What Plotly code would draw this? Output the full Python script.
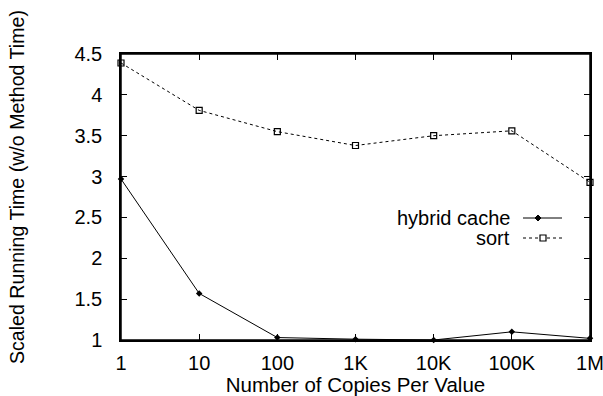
import plotly.graph_objects as go

copies = [1, 10, 100, 1000, 10000, 100000, 1000000]
tick_labels = ["1", "10", "100", "1K", "10K", "100K", "1M"]
hybrid_cache = [2.97, 1.57, 1.03, 1.01, 1.00, 1.10, 1.02]
sort_vals = [4.39, 3.81, 3.55, 3.38, 3.50, 3.56, 2.93]
y_ticks = [1, 1.5, 2, 2.5, 3, 3.5, 4, 4.5]
y_tick_labels = ["1", "1.5", "2", "2.5", "3", "3.5", "4", "4.5"]

FONT = "Liberation Sans, Arial, Helvetica, sans-serif"
FS = 20

fig = go.Figure()
fig.add_trace(go.Scatter(
    x=copies, y=hybrid_cache, name="hybrid cache", mode="lines+markers",
    line=dict(color="black", width=1),
    marker=dict(symbol="diamond", size=5, color="black"),
    showlegend=False, cliponaxis=False,
))
fig.add_trace(go.Scatter(
    x=copies, y=sort_vals, name="sort", mode="lines+markers",
    line=dict(color="black", width=1, dash="dot"),
    marker=dict(symbol="square-open", size=6, color="black", line=dict(width=1.2)),
    showlegend=False, cliponaxis=False,
))

# Legend (text left of sample, gnuplot style)
W, H = 603, 396
L, R, T, B = 121, 13, 54, 56
pw, ph = W - L - R, H - T - B

def px(x):
    return (x - L) / pw

def py(y):
    return 1 - (y - T) / ph

legend_items = [("hybrid cache", 218, "solid"), ("sort", 238, "dot")]
shapes = [dict(type="rect", xref="paper", yref="paper", x0=0, x1=1, y0=0, y1=1,
               line=dict(color="black", width=1.5), layer="above")]
annotations = []
for text, yy, dash in legend_items:
    annotations.append(dict(
        x=px(512), y=py(yy), xref="paper", yref="paper", text=text,
        showarrow=False, xanchor="right", yanchor="middle",
        font=dict(family=FONT, size=FS, color="black"),
    ))
    shapes.append(dict(
        type="line", xref="paper", yref="paper",
        x0=px(523), x1=px(562), y0=py(yy), y1=py(yy),
        line=dict(color="black", width=1, dash=dash),
    ))
# legend sample markers
cx, cy = 538, 218
shapes.append(dict(type="path", xref="paper", yref="paper",
                   path=f"M {px(cx-3)} {py(cy)} L {px(cx)} {py(cy-3)} L {px(cx+3)} {py(cy)} L {px(cx)} {py(cy+3)} Z",
                   fillcolor="black", line=dict(color="black", width=1)))
cx, cy = 543, 238
shapes.append(dict(type="rect", xref="paper", yref="paper",
                   x0=px(cx-3), x1=px(cx+3), y0=py(cy-3), y1=py(cy+3),
                   fillcolor="white", line=dict(color="black", width=1.2)))

# y-axis title placed as rotated text (centred slightly above the plot centre, as in the original)
annotations.append(dict(
    x=px(17), y=py(187), xref="paper", yref="paper",
    text="Scaled Running Time (w/o Method Time)", textangle=-90,
    showarrow=False, xanchor="center", yanchor="middle",
    font=dict(family=FONT, size=19.6, color="black"),
))

fig.update_layout(
    width=W, height=H,
    margin=dict(l=L, r=R, t=T, b=B),
    paper_bgcolor="white", plot_bgcolor="white",
    font=dict(family=FONT, size=FS, color="black"),
    shapes=shapes, annotations=annotations,
)
fig.update_xaxes(
    type="log", range=[0, 6],
    tickvals=copies, ticktext=tick_labels,
    showgrid=False, zeroline=False,
    showline=True, linecolor="black", linewidth=1.5, mirror="allticks",
    ticks="inside", ticklen=6, tickcolor="black", tickwidth=1,
    ticklabelstandoff=4, ticklabeloverflow="allow",
    title=dict(text="Number of Copies Per Value", standoff=0, font=dict(size=20.5)),
    automargin=False,
)
fig.update_yaxes(
    range=[1, 4.5],
    tickvals=y_ticks, ticktext=y_tick_labels,
    showgrid=False, zeroline=False,
    showline=True, linecolor="black", linewidth=1.5, mirror="allticks",
    ticks="inside", ticklen=6, tickcolor="black", tickwidth=1,
    ticklabelstandoff=13, ticklabeloverflow="allow",
    automargin=False,
)

fig.write_html("out.html", config={"displayModeBar": False},
               post_script="document.body.style.margin='0';")
